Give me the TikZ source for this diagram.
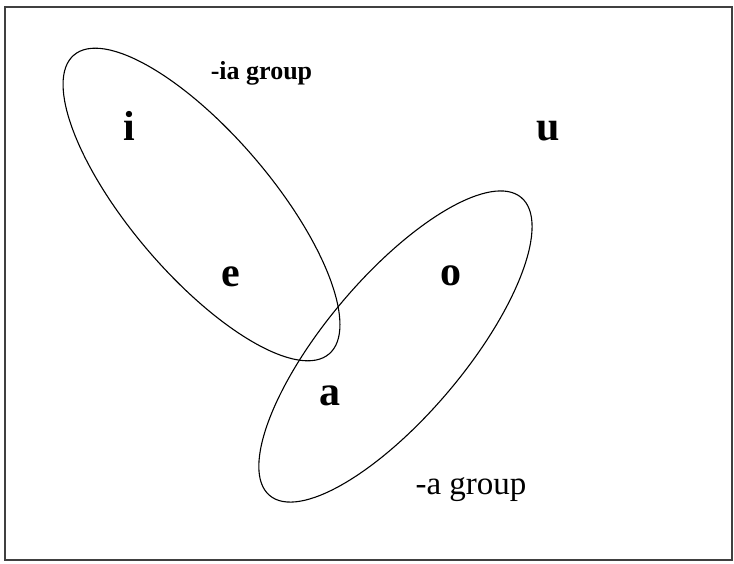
\documentclass[tikz,border=0pt]{standalone}
\usepackage{fontspec}
\setmainfont{Liberation Serif}
\begin{document}
\begin{tikzpicture}[x=1pt,y=1pt,
  vowel/.style={anchor=base,inner sep=0pt,font=\fontsize{42}{48}\selectfont\bfseries},
  grouplbl/.style={anchor=base,inner sep=0pt},
  ring/.style={draw=black,line width=1.1pt}]
\useasboundingbox (0,0) rectangle (734,-563);
\draw[line width=1.6pt,draw=black!75] (5,-7) rectangle (732,-560);
% ellipses
\coordinate (c1) at (201.5,-204.5);
\coordinate (c2) at (395.5,-346.5);
\draw[ring,rotate around={-49.5:(c1)}] (c1) ellipse (196.5 and 70.5);
\draw[ring,rotate around={49.8:(c2)}] (c2) ellipse (195 and 69.5);
% vowels
\node[vowel] (i) at (129,-140) {i};
\node[vowel] (u) at (548,-140) {u};
\node[vowel] (e) at (231,-286) {e};
\node[vowel] (o) at (451,-285) {o};
\node[vowel] (a) at (330,-405) {a};
% group labels
\node[grouplbl,font=\fontsize{26}{30}\selectfont\bfseries] (ia) at (261.5,-79) {-ia group};
\node[grouplbl,font=\fontsize{33}{38}\selectfont] (ag) at (471,-494) {-a group};
\end{tikzpicture}
\end{document}
